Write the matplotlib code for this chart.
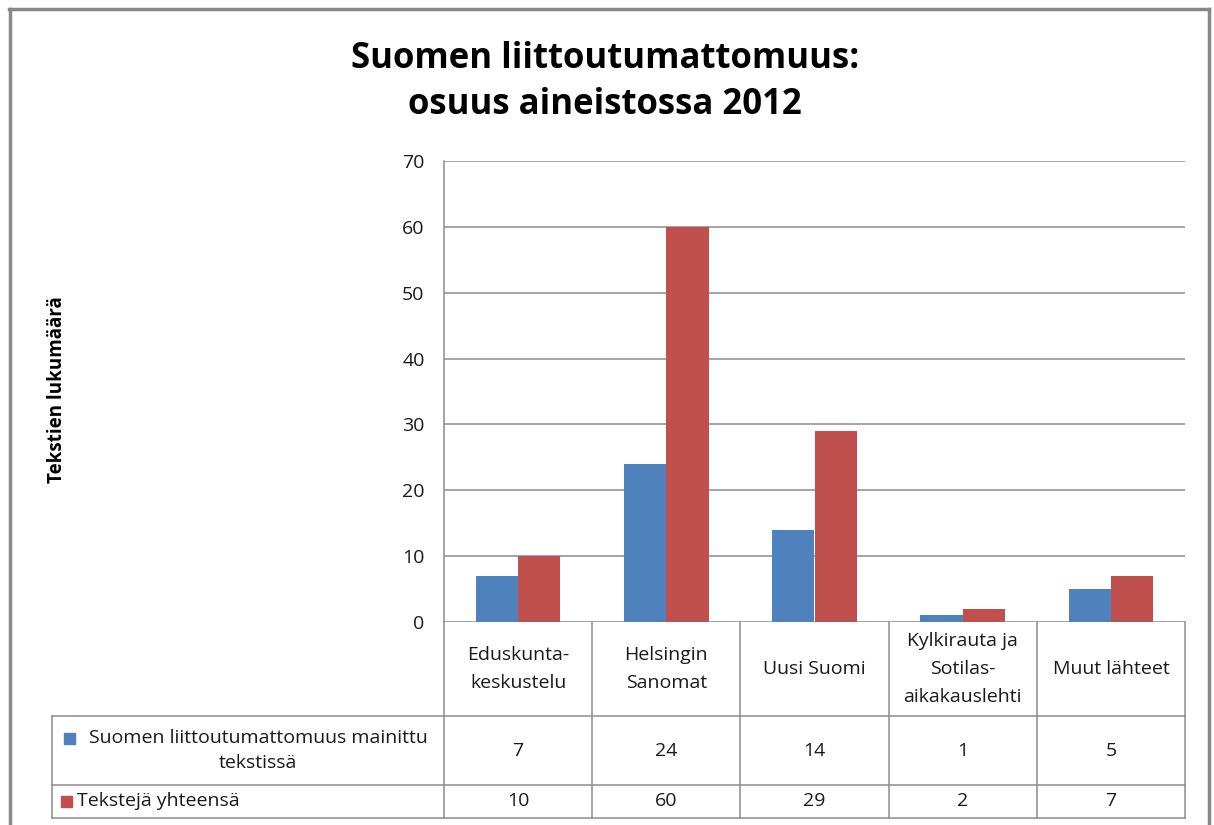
import matplotlib
matplotlib.use("Agg")
import matplotlib.pyplot as plt
from matplotlib.lines import Line2D
from matplotlib.patches import Rectangle
import numpy as np

categories = ["Eduskunta-\nkeskustelu", "Helsingin\nSanomat", "Uusi Suomi",
              "Kylkirauta ja\nSotilas-\naikakauslehti", "Muut lähteet"]
series_names = ["Suomen liittoutumattomuus mainittu\ntekstissä", "Tekstejä yhteensä"]
mentioned = [7, 24, 14, 1, 5]
total = [10, 60, 29, 2, 7]
yticks = [0, 10, 20, 30, 40, 50, 60, 70]
title = "Suomen liittoutumattomuus:\nosuus aineistossa 2012"
ylabel = "Tekstien lukumäärä"

colors = ["#4F81BD", "#C0504D"]
grid_c = "#8C8C8C"
FONT = ["Open Sans", "DejaVu Sans"]
plt.rcParams['font.family'] = FONT
TXT = "#1a1a1a"
FS = 14

W, H = 1214, 825
fig = plt.figure(figsize=(W / 100, H / 100), dpi=100)

def fx(x):
    return x / W

def fy(y):
    return 1 - y / H

# plot area
L, R, T, B = 444, 1185, 161, 622
ax = fig.add_axes([fx(L), fy(B), fx(R) - fx(L), fy(T) - fy(B)])
n = len(categories)
x = np.arange(n)
bw = 0.285
ax.bar(x - bw / 2, mentioned, bw, color=colors[0], zorder=3)
ax.bar(x + bw / 2, total, bw, color=colors[1], zorder=3)
ax.set_xlim(-0.5, n - 0.5)
ax.set_ylim(0, 70)
ax.set_yticks(yticks)
ax.set_yticklabels([str(v) for v in yticks], fontsize=FS, color=TXT)
ax.tick_params(axis='y', length=0, pad=14)
ax.set_xticks([])
for v in yticks:
    ax.axhline(v, color=grid_c, lw=1.1, zorder=1)
for s in ["top", "right", "bottom"]:
    ax.spines[s].set_visible(False)
ax.spines["left"].set_color(grid_c)
ax.spines["left"].set_linewidth(1.1)

# table
col_edges = [L + i * (R - L) / n for i in range(n + 1)]
rows_y = [622, 716, 785, 818]
left_tab = 52

def hline(y, x0, x1):
    fig.add_artist(Line2D([fx(x0), fx(x1)], [fy(y), fy(y)], color=grid_c, lw=1.1))

def vline(x, y0, y1):
    fig.add_artist(Line2D([fx(x), fx(x)], [fy(y0), fy(y1)], color=grid_c, lw=1.1))

hline(rows_y[1], left_tab, R)
hline(rows_y[2], left_tab, R)
hline(rows_y[3], left_tab, R)
for cx in col_edges:
    vline(cx, rows_y[0], rows_y[3])
vline(left_tab, rows_y[1], rows_y[3])

for i, cat in enumerate(categories):
    cx = (col_edges[i] + col_edges[i + 1]) / 2
    fig.text(fx(cx), fy((rows_y[0] + rows_y[1]) / 2), cat, ha="center", va="center",
             fontsize=FS, color=TXT, linespacing=1.68)
    fig.text(fx(cx), fy((rows_y[1] + rows_y[2]) / 2), str(mentioned[i]), ha="center",
             va="center", fontsize=FS, color=TXT)
    fig.text(fx(cx), fy((rows_y[2] + rows_y[3]) / 2), str(total[i]), ha="center",
             va="center", fontsize=FS, color=TXT)

# row headers with legend keys
fig.add_artist(Rectangle((fx(64), fy(744)), fx(11), 11 / H, color=colors[0],
                         transform=fig.transFigure))
fig.text(fx(258), fy((rows_y[1] + rows_y[2]) / 2), series_names[0], ha="center",
         va="center", fontsize=FS, color=TXT, linespacing=1.55)
fig.add_artist(Rectangle((fx(61), fy(807)), fx(11), 11 / H, color=colors[1],
                         transform=fig.transFigure))
fig.text(fx(77), fy((rows_y[2] + rows_y[3]) / 2), series_names[1], ha="left",
         va="center", fontsize=FS, color=TXT)

# title and y-label
fig.text(fx(605), fy(82), title, ha="center", va="center", fontsize=25,
         fontweight="bold", color="black", linespacing=1.35)
fig.text(fx(57), fy(390), ylabel, ha="center", va="center", rotation=90,
         fontsize=13.5, fontweight="bold", color="black")

# chart border
bc = "#888888"
fig.add_artist(Line2D([fx(9), fx(1209)], [fy(9), fy(9)], color=bc, lw=2.5))
fig.add_artist(Line2D([fx(10), fx(10)], [fy(9), fy(825)], color=bc, lw=2.5))
fig.add_artist(Line2D([fx(1209), fx(1209)], [fy(9), fy(825)], color=bc, lw=2.5))

fig.savefig("out.png", dpi=100)
